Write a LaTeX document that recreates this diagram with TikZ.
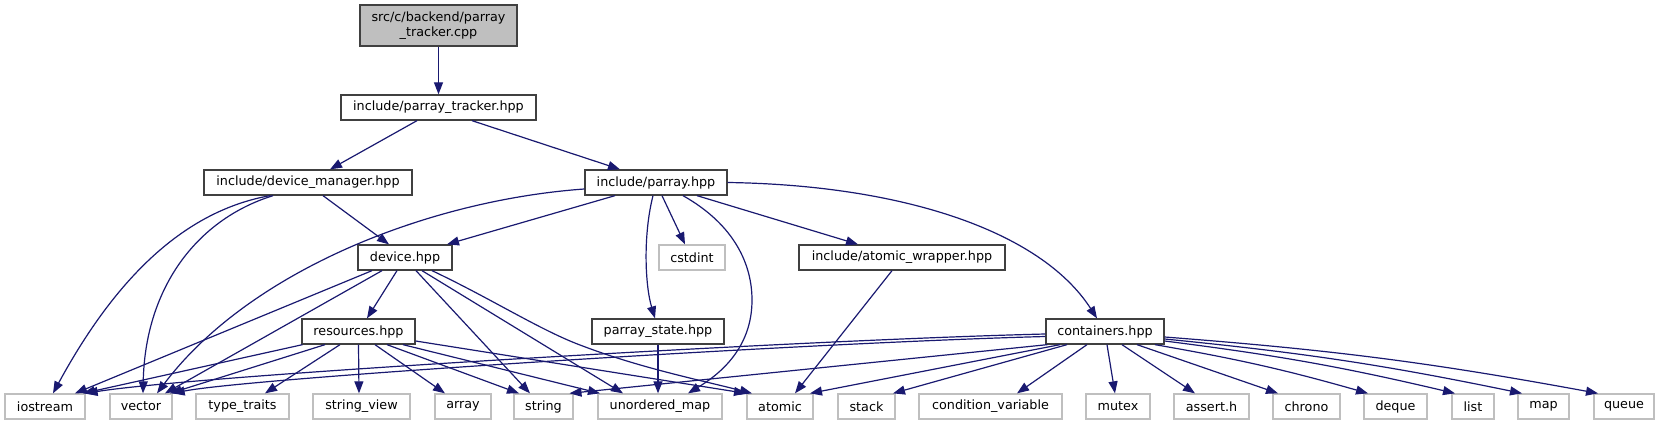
\documentclass[tikz,border=0pt]{standalone}
\usepackage{fontspec}
\setmainfont{DejaVu Sans}
\usetikzlibrary{arrows.meta,calc}
\definecolor{edgeblue}{HTML}{191970}
\definecolor{docborder}{HTML}{404040}
\definecolor{extborder}{HTML}{BFBFBF}
\definecolor{rootfill}{HTML}{BFBFBF}
\begin{document}
\begin{tikzpicture}[x=1pt,y=-1pt,
  box/.style={draw=docborder,line width=1.3pt,fill=white,minimum height=25pt,inner sep=0pt,
    font=\fontsize{12.75}{15}\selectfont},
  ext/.style={box,draw=extborder},
  edge/.style={draw=edgeblue,line width=1.2pt,-{Triangle[length=12pt,width=9pt]}}]
\useasboundingbox (0,0) rectangle (1662,425);
% nodes
\node[box,fill=rootfill,minimum width=157pt,minimum height=41pt,align=center] (root) at (438.5,25.5) {src/c/backend/parray\\\_tracker.cpp};
\node[box,minimum width=195pt] (tracker) at (438.5,107.5) {include/parray\_tracker.hpp};
\node[box,minimum width=208pt] (devmgr) at (308,182.5) {include/device\_manager.hpp};
\node[box,minimum width=142pt] (parray) at (656,182.5) {include/parray.hpp};
\node[box,minimum width=94pt] (device) at (405,257.5) {device.hpp};
\node[ext,minimum width=66pt] (cstdint) at (692,257.5) {cstdint};
\node[box,minimum width=206pt] (atomwrap) at (902,257.5) {include/atomic\_wrapper.hpp};
\node[box,minimum width=113pt] (resources) at (358.5,331.5) {resources.hpp};
\node[box,minimum width=132pt] (pstate) at (658,331.5) {parray\_state.hpp};
\node[box,minimum width=118pt] (containers) at (1105,331.5) {containers.hpp};
\node[ext,minimum width=80pt] (iostream) at (45,406.5) {iostream};
\node[ext,minimum width=62pt] (vector) at (141,406.5) {vector};
\node[ext,minimum width=93pt] (typetraits) at (242.5,406.5) {type\_traits};
\node[ext,minimum width=97pt] (stringview) at (361.5,406.5) {string\_view};
\node[ext,minimum width=56pt] (array) at (463,406.5) {array};
\node[ext,minimum width=59pt] (string) at (543.5,406.5) {string};
\node[ext,minimum width=124pt] (umap) at (660,406.5) {unordered\_map};
\node[ext,minimum width=66pt] (atomic) at (780,406.5) {atomic};
\node[ext,minimum width=57pt] (stack) at (866.5,406.5) {stack};
\node[ext,minimum width=143pt] (condvar) at (990.5,406.5) {condition\_variable};
\node[ext,minimum width=64pt] (mutex) at (1118,406.5) {mutex};
\node[ext,minimum width=75pt] (assert) at (1211.5,406.5) {assert.h};
\node[ext,minimum width=67pt] (chrono) at (1306.5,406.5) {chrono};
\node[ext,minimum width=63pt] (deque) at (1395.5,406.5) {deque};
\node[ext,minimum width=42pt] (list) at (1473,406.5) {list};
\node[ext,minimum width=51pt] (map) at (1543.5,406.5) {map};
\node[ext,minimum width=60pt] (queue) at (1624,406.5) {queue};
% edges
\draw[edge] (root.south) -- (tracker.north);
\draw[edge] ($(tracker.south)+(-21.5,0)$) -- ($(devmgr.north)+(22,0)$);
\draw[edge] ($(tracker.south)+(33.5,0)$) -- ($(parray.north)+(-36,0)$);
% device_manager
\draw[edge] ($(devmgr.south)+(-38,0)$) .. controls (190,210) and (120,270) .. ($(iostream.north)+(8,0)$);
\draw[edge] ($(devmgr.south)+(-35,0)$) .. controls (195,220) and (145,290) .. ($(vector.north)+(2,0)$);
\draw[edge] ($(devmgr.south)+(15,0)$) -- ($(device.north)+(-16,0)$);
% parray
\draw[edge] ($(parray.west)+(0,6.5)$) .. controls (430,200) and (250,270) .. ($(vector.north)+(16,0)$);
\draw[edge] ($(parray.south)+(-41,0)$) -- ($(device.north)+(42,0)$);
\draw[edge] ($(parray.south)+(-3,0)$) .. controls (643,235) and (645,285) .. ($(pstate.north)+(-3,0)$);
\draw[edge] ($(parray.south)+(6,0)$) -- ($(cstdint.north)+(-7,0)$);
\draw[edge] ($(parray.south)+(27,0)$) .. controls (735,225) and (752,265) .. (752,300) .. controls (752,335) and (735,365) .. ($(umap.north)+(28,0)$);
\draw[edge] ($(parray.south)+(41,0)$) -- ($(atomwrap.north)+(-44,0)$);
\draw[edge] (parray.east) .. controls (900,185) and (1040,230) .. ($(containers.north)+(-8,0)$);
% device
\draw[edge] ($(device.south)+(-33,0)$) -- ($(iostream.north)+(30,0)$);
\draw[edge] ($(device.south)+(-23,0)$) -- ($(vector.north)+(24,0)$);
\draw[edge] ($(device.south)+(-8,0)$) -- ($(resources.north)+(8.5,0)$);
\draw[edge] ($(device.south)+(11,0)$) -- ($(string.north)+(-13.5,0)$);
\draw[edge] ($(device.south)+(17,0)$) -- ($(umap.north)+(-37,0)$);
\draw[edge] ($(device.south)+(27,0)$) .. controls (490,298) and (540,330) .. (580,345) .. controls (640,368) and (700,380) .. ($(atomic.north)+(-28,0)$);
% resources
\draw[edge] ($(resources.south)+(-56,0)$) -- ($(iostream.north)+(38,0)$);
\draw[edge] ($(resources.south)+(-33.5,0)$) -- ($(vector.north)+(29,0)$);
\draw[edge] ($(resources.south)+(-18.5,0)$) -- ($(typetraits.north)+(22.5,0)$);
\draw[edge] (resources.south) -- ($(stringview.north)+(-2.5,0)$);
\draw[edge] ($(resources.south)+(16.5,0)$) -- ($(array.north)+(-18,0)$);
\draw[edge] ($(resources.south)+(28.5,0)$) -- ($(string.north)+(-24.5,0)$);
\draw[edge] ($(resources.south)+(44.5,0)$) -- ($(umap.north)+(-60,0)$);
\draw[edge] ($(resources.east)+(0,9.5)$) -- ($(atomic.north)+(-34,0)$);
% others
\draw[edge] (pstate.south) -- ($(umap.north)+(-2,0)$);
\draw[edge] ($(atomwrap.south)+(-10,0)$) -- ($(atomic.north)+(15,0)$);
% containers
\draw[edge] ($(containers.west)+(0,2.5)$) .. controls (800,340) and (200,375) .. (iostream.north east);
\draw[edge] ($(containers.west)+(0,5)$) .. controls (800,343) and (250,378) .. (vector.north east);
\draw[edge] ($(containers.south west)+(2,0)$) -- ($(string.north)+(26,0)$);
\draw[edge] ($(containers.south)+(-45,0)$) -- ($(atomic.north)+(30,0)$);
\draw[edge] ($(containers.south)+(-38,0)$) -- ($(stack.north)+(26.5,0)$);
\draw[edge] ($(containers.south)+(-18,0)$) -- ($(condvar.north)+(26.5,0)$);
\draw[edge] ($(containers.south)+(2,0)$) -- ($(mutex.north)+(-3,0)$);
\draw[edge] ($(containers.south)+(17,0)$) -- ($(assert.north)+(-16.5,0)$);
\draw[edge] ($(containers.south)+(32,0)$) -- ($(chrono.north)+(-28.5,0)$);
\draw[edge] ($(containers.south)+(50,0)$) to[bend left=3] ($(deque.north)+(-27.5,0)$);
\draw[edge] ($(containers.east)+(0,9.5)$) to[bend left=3] ($(list.north)+(-18,0)$);
\draw[edge] ($(containers.east)+(0,7.5)$) to[bend left=3] ($(map.north)+(-21.5,0)$);
\draw[edge] ($(containers.east)+(0,5.5)$) to[bend left=3] ($(queue.north)+(-26,0)$);
\end{tikzpicture}
\end{document}
